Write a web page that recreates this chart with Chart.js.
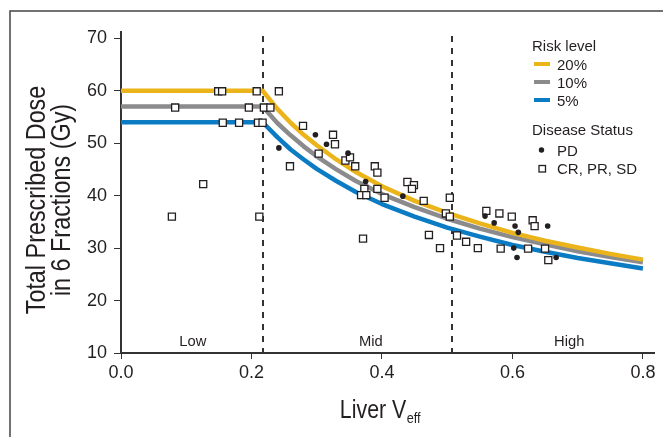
<!DOCTYPE html>
<html>
<head>
<meta charset="utf-8">
<script src="https://cdn.jsdelivr.net/npm/chart.js@4/dist/chart.umd.min.js"></script>
<style>
  html, body { margin: 0; padding: 0; background: #ffffff; }
  #wrap { width: 663px; height: 437px; position: relative; }
  canvas { display: block; }
</style>
</head>
<body>
<div id="wrap"><canvas id="c" width="663" height="437"></canvas></div>
<script>
// ---- Data ----
const riskX  = [0, 0.217, 0.24, 0.26, 0.28, 0.30, 0.33, 0.36, 0.40, 0.45, 0.50, 0.55, 0.60, 0.65, 0.70, 0.75, 0.80];
const risk20 = [60, 60, 56.5, 53.9, 51.6, 49.6, 46.9, 44.5, 41.8, 39.0, 36.7, 34.7, 32.9, 31.4, 30.1, 28.9, 27.8];
const risk10 = [57, 57, 53.8, 51.5, 49.4, 47.5, 45.0, 42.8, 40.3, 37.8, 35.6, 33.7, 32.1, 30.7, 29.4, 28.3, 27.3];
const risk5  = [54, 54, 51.1, 48.8, 46.9, 45.1, 42.8, 40.7, 38.4, 36.0, 33.9, 32.2, 30.6, 29.3, 28.1, 27.1, 26.1];

const pdX = [0.242, 0.298, 0.315, 0.348, 0.375, 0.432, 0.558, 0.572, 0.604, 0.609, 0.654, 0.602, 0.607, 0.667];
const pdY = [49.1, 51.6, 49.8, 48.1, 42.7, 39.9, 36.1, 34.8, 34.2, 33.0, 34.2, 30.0, 28.2, 28.2];

const crX = [0.149, 0.155, 0.208, 0.242, 0.083, 0.196, 0.219, 0.229, 0.156, 0.181, 0.210, 0.217,
             0.259, 0.126, 0.078, 0.212, 0.279, 0.325, 0.328, 0.303, 0.344, 0.351, 0.359, 0.389,
             0.393, 0.373, 0.393, 0.368, 0.376, 0.404, 0.439, 0.449, 0.446, 0.464, 0.504, 0.498,
             0.504, 0.472, 0.515, 0.529, 0.489, 0.547, 0.371, 0.560, 0.580, 0.599, 0.631, 0.634,
             0.582, 0.624, 0.650, 0.655];
const crY = [59.9, 59.9, 59.9, 59.9, 56.8, 56.8, 56.8, 56.8, 53.9, 53.9, 53.9, 53.9,
             45.6, 42.2, 36.0, 36.0, 53.3, 51.6, 49.8, 48.0, 46.7, 47.3, 45.6, 45.6,
             44.4, 41.3, 41.3, 40.1, 40.1, 39.6, 42.6, 42.0, 41.3, 39.0, 39.6, 36.6,
             36.0, 32.5, 32.4, 31.2, 30.0, 30.0, 31.8, 37.1, 36.6, 36.0, 35.3, 34.2,
             29.9, 29.9, 29.9, 27.7];

const xTicks = [0, 0.2, 0.4, 0.6, 0.8];
const yTicks = [10, 20, 30, 40, 50, 60, 70];
const regionCuts = [0.217, 0.508];
const regionNames = ['Low', 'Mid', 'High'];
const riskNames = ['20%', '10%', '5%'];
const statusNames = ['PD', 'CR, PR, SD'];

// ---- Styles ----
const COLORS = { r20: '#EAB41A', r10: '#8B8B8D', r5: '#0B7CC4', ink: '#231F20' };
const SANS = "'Liberation Sans', Arial, sans-serif";
const NARROW_K = 0.82; // horizontal compression to mimic a condensed face

const pts = (xs, ys) => xs.map((x, i) => ({ x: x, y: ys[i] }));

const lineDs = (label, ys, color) => ({
  label: label, data: pts(riskX, ys), showLine: true, borderColor: color,
  backgroundColor: color, borderWidth: 4.5, pointRadius: 0, tension: 0, order: 2,
  borderJoinStyle: 'round'
});

function narrowText(ctx, text, x, y, size, align, k) {
  ctx.save();
  ctx.font = size + 'px ' + SANS;
  ctx.translate(x, y);
  ctx.scale(k || NARROW_K, 1);
  ctx.textAlign = align;
  ctx.fillText(text, 0, 0);
  ctx.restore();
}
function narrowWidth(ctx, text, size) {
  ctx.save();
  ctx.font = size + 'px ' + SANS;
  const w = ctx.measureText(text).width * NARROW_K;
  ctx.restore();
  return w;
}

const decor = {
  id: 'decor',
  beforeDatasetsDraw(chart) {
    const { ctx, chartArea } = chart;
    const xs = chart.scales.x;
    ctx.save();
    ctx.strokeStyle = '#333';
    ctx.lineWidth = 2;
    ctx.setLineDash([6, 6]);
    regionCuts.forEach(v => {
      const px = Math.round(xs.getPixelForValue(v));
      ctx.beginPath();
      ctx.moveTo(px, chartArea.top + 4);
      ctx.lineTo(px, chartArea.bottom);
      ctx.stroke();
    });
    ctx.restore();
  },
  afterDraw(chart) {
    const { ctx } = chart;
    const xs = chart.scales.x, ys = chart.scales.y;
    ctx.save();
    // frame
    ctx.strokeStyle = '#444';
    ctx.lineWidth = 1.5;
    ctx.beginPath();
    ctx.moveTo(10, 437);
    ctx.lineTo(10, 11);
    ctx.lineTo(663, 11);
    ctx.stroke();

    ctx.fillStyle = COLORS.ink;
    ctx.textBaseline = 'alphabetic';
    // region labels
    const regionCenters = [0.110, 0.383, 0.687];
    regionNames.forEach((n, i) => {
      narrowText(ctx, n, xs.getPixelForValue(regionCenters[i]), ys.getPixelForValue(11.4), 15.5, 'center', 0.95);
    });

    // y title
    ctx.save();
    ctx.translate(0, 200);
    ctx.rotate(-Math.PI / 2);
    narrowText(ctx, 'Total Prescribed Dose', 0, 45, 28.5, 'center');
    narrowText(ctx, 'in 6 Fractions (Gy)', 0, 70, 28.5, 'center');
    ctx.restore();

    // x title with subscript
    const main = 'Liver V';
    const w1 = narrowWidth(ctx, main, 26);
    const w2 = narrowWidth(ctx, 'eff', 15.5);
    const x0 = 380 - (w1 + w2) / 2;
    narrowText(ctx, main, x0, 418, 26, 'left');
    narrowText(ctx, 'eff', x0 + w1 + 0.5, 423, 15.5, 'left');

    // legend
    ctx.textAlign = 'left';
    ctx.font = '15px ' + SANS;
    ctx.fillText('Risk level', 532, 51);
    const lc = [COLORS.r20, COLORS.r10, COLORS.r5];
    const ly = [64, 82, 100];
    riskNames.forEach((n, i) => {
      ctx.strokeStyle = lc[i];
      ctx.lineWidth = 4;
      ctx.beginPath();
      ctx.moveTo(534, ly[i]);
      ctx.lineTo(550, ly[i]);
      ctx.stroke();
      ctx.fillText(n, 557, ly[i] + 6);
    });
    ctx.fillText('Disease Status', 532, 135);
    ctx.beginPath();
    ctx.arc(541.5, 150, 2.7, 0, Math.PI * 2);
    ctx.fill();
    ctx.fillText(statusNames[0], 557, 156);
    ctx.strokeStyle = COLORS.ink;
    ctx.lineWidth = 1.3;
    ctx.strokeRect(539, 165.5, 6.5, 6.5);
    ctx.fillText(statusNames[1], 557, 174);
    ctx.restore();
  }
};

new Chart(document.getElementById('c'), {
  type: 'scatter',
  data: {
    datasets: [
      { label: 'PD', data: pts(pdX, pdY), pointStyle: 'circle', pointRadius: 2.8,
        backgroundColor: COLORS.ink, borderColor: COLORS.ink, borderWidth: 0, order: 0 },
      { label: 'CR, PR, SD', data: pts(crX, crY), pointStyle: 'rect', pointRadius: 5,
        backgroundColor: '#ffffff', borderColor: COLORS.ink, borderWidth: 1.3, order: 1 },
      lineDs('20%', risk20, COLORS.r20),
      lineDs('10%', risk10, COLORS.r10),
      lineDs('5%', risk5, COLORS.r5)
    ]
  },
  options: {
    responsive: false,
    animation: false,
    devicePixelRatio: 1,
    layout: { padding: { left: 0, top: 32, right: 9, bottom: 0 } },
    plugins: { legend: { display: false }, tooltip: { enabled: false } },
    scales: {
      x: {
        type: 'linear', min: 0, max: 0.817,
        afterBuildTicks: s => { s.ticks = xTicks.map(v => ({ value: v })); },
        afterFit: s => { s.height = 84; s.paddingLeft = 0; s.paddingRight = 0; },
        grid: { drawOnChartArea: false, drawTicks: true, tickLength: 6, color: '#333', lineWidth: 1 },
        border: { display: true, color: '#333', width: 2 },
        ticks: { font: { family: SANS, size: 18 }, color: COLORS.ink, padding: 3,
                 maxRotation: 0, autoSkip: false, callback: v => Number(v).toFixed(1) }
      },
      y: {
        type: 'linear', min: 10, max: 71.2,
        afterBuildTicks: s => { s.ticks = yTicks.map(v => ({ value: v })); },
        afterFit: s => { s.width = 121; s.paddingTop = 0; s.paddingBottom = 0; },
        grid: { drawOnChartArea: false, drawTicks: true, tickLength: 7, color: '#333', lineWidth: 1 },
        border: { display: true, color: '#333', width: 2 },
        ticks: { font: { family: SANS, size: 18 }, color: COLORS.ink, padding: 7,
                 autoSkip: false, callback: v => String(v) }
      }
    }
  },
  plugins: [decor]
});
</script>
</body>
</html>
